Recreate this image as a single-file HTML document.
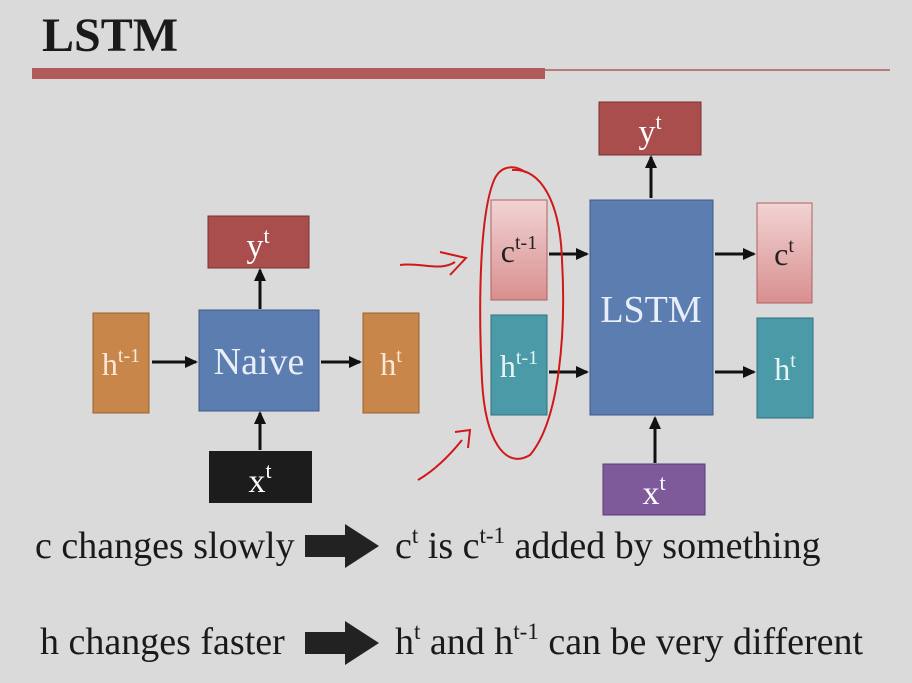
<!DOCTYPE html>
<html><head><meta charset="utf-8"><style>
body{margin:0;width:912px;height:683px;overflow:hidden;background:#dadada;}
svg{display:block}
text{font-family:"Liberation Serif",serif;}
</style></head><body>
<svg width="912" height="683" viewBox="0 0 912 683">
<defs>
<marker id="ah" markerUnits="userSpaceOnUse" markerWidth="14" markerHeight="14" refX="11" refY="7" orient="auto"><path d="M0,1 L13,7 L0,13 z" fill="#111"/></marker>
<linearGradient id="pink" x1="0" y1="0" x2="0" y2="1"><stop offset="0" stop-color="#f2d3d3"/><stop offset="1" stop-color="#d98f8f"/></linearGradient>
</defs>
<rect width="912" height="683" fill="#dadada"/>
<text x="42" y="51" font-size="48" font-weight="bold" fill="#1a1a1a">LSTM</text>
<rect x="32" y="68" width="513" height="11" fill="#b05a5a"/>
<line x1="545" y1="70" x2="890" y2="70" stroke="#b05a5a" stroke-width="1.5"/>

<g>
<rect x="208" y="216" width="101" height="52" fill="#a94d4d" stroke="#7a3030"/>
<text x="258" y="257" font-size="34" fill="#fff" text-anchor="middle">y<tspan font-size="22" dy="-14">t</tspan></text>
<rect x="93" y="313" width="56" height="100" fill="#c8864a" stroke="#9a6030"/>
<text x="121" y="375" font-size="32" fill="#fbe9d8" text-anchor="middle">h<tspan font-size="20" dy="-13">t-1</tspan></text>
<rect x="199" y="310" width="120" height="101" fill="#5b7db0" stroke="#3e5a88"/>
<text x="259" y="374" font-size="38" fill="#e8eef8" text-anchor="middle">Naive</text>
<rect x="363" y="313" width="56" height="100" fill="#c8864a" stroke="#9a6030"/>
<text x="391" y="375" font-size="32" fill="#fbe9d8" text-anchor="middle">h<tspan font-size="20" dy="-13">t</tspan></text>
<rect x="209" y="451" width="103" height="52" fill="#1c1c1c"/>
<text x="260" y="492" font-size="34" fill="#fff" text-anchor="middle">x<tspan font-size="22" dy="-14">t</tspan></text>
<g stroke="#111" stroke-width="3" marker-end="url(#ah)">
<line x1="152" y1="362" x2="196" y2="362"/>
<line x1="321" y1="362" x2="360" y2="362"/>
<line x1="260" y1="309" x2="260" y2="270"/>
<line x1="260" y1="450" x2="260" y2="413"/>
</g></g>

<g>
<rect x="599" y="102" width="102" height="53" fill="#a94d4d" stroke="#7a3030"/>
<text x="650" y="143" font-size="34" fill="#fff" text-anchor="middle">y<tspan font-size="22" dy="-14">t</tspan></text>
<rect x="491" y="200" width="56" height="100" fill="url(#pink)" stroke="#b06060"/>
<text x="519" y="262" font-size="32" fill="#222" text-anchor="middle">c<tspan font-size="20" dy="-13">t-1</tspan></text>
<rect x="590" y="200" width="123" height="215" fill="#5b7db0" stroke="#3e5a88"/>
<text x="651" y="322" font-size="38" fill="#e8eef8" text-anchor="middle">LSTM</text>
<rect x="757" y="203" width="55" height="100" fill="url(#pink)" stroke="#b06060"/>
<text x="784" y="265" font-size="32" fill="#222" text-anchor="middle">c<tspan font-size="20" dy="-13">t</tspan></text>
<rect x="491" y="315" width="56" height="100" fill="#4b9aa8" stroke="#2e7080"/>
<text x="519" y="377" font-size="32" fill="#e6f4f6" text-anchor="middle">h<tspan font-size="20" dy="-13">t-1</tspan></text>
<rect x="757" y="318" width="56" height="100" fill="#4b9aa8" stroke="#2e7080"/>
<text x="785" y="380" font-size="32" fill="#e6f4f6" text-anchor="middle">h<tspan font-size="20" dy="-13">t</tspan></text>
<rect x="603" y="464" width="102" height="51" fill="#7e5a9a" stroke="#5a3a78"/>
<text x="654" y="504" font-size="34" fill="#fff" text-anchor="middle">x<tspan font-size="22" dy="-14">t</tspan></text>
<g stroke="#111" stroke-width="3" marker-end="url(#ah)">
<line x1="549" y1="254" x2="587" y2="254"/>
<line x1="549" y1="372" x2="587" y2="372"/>
<line x1="715" y1="254" x2="754" y2="254"/>
<line x1="715" y1="372" x2="754" y2="372"/>
<line x1="651" y1="198" x2="651" y2="157"/>
<line x1="655" y1="463" x2="655" y2="418"/>
</g></g>

<g fill="none" stroke="#d01818" stroke-width="2">
<path d="M512,170 C540,168 560,200 562,260 C566,330 560,420 530,455 C505,470 485,440 482,380 C478,300 480,210 495,178 C502,165 515,165 525,172"/>
<path d="M400,265 C420,262 440,272 455,262 M440,252 L466,258 L450,275"/>
<path d="M418,480 C435,470 450,455 462,440 M455,432 L470,430 L468,448"/>
</g>

<g font-size="38" fill="#1a1a1a">
<text x="35" y="558">c changes slowly</text>
<path d="M305,535 H345 V524 L379,546 L345,568 V557 H305 Z" fill="#222"/>
<text x="395" y="558">c<tspan font-size="23" dy="-15">t</tspan><tspan dy="15"> is c</tspan><tspan font-size="23" dy="-15">t-1</tspan><tspan dy="15"> added by something</tspan></text>
<text x="40" y="654">h changes faster</text>
<path d="M305,632 H345 V621 L379,643 L345,665 V654 H305 Z" fill="#222"/>
<text x="395" y="654">h<tspan font-size="23" dy="-15">t</tspan><tspan dy="15"> and h</tspan><tspan font-size="23" dy="-15">t-1</tspan><tspan dy="15"> can be very different</tspan></text>
</g>
</svg>
</body></html>
